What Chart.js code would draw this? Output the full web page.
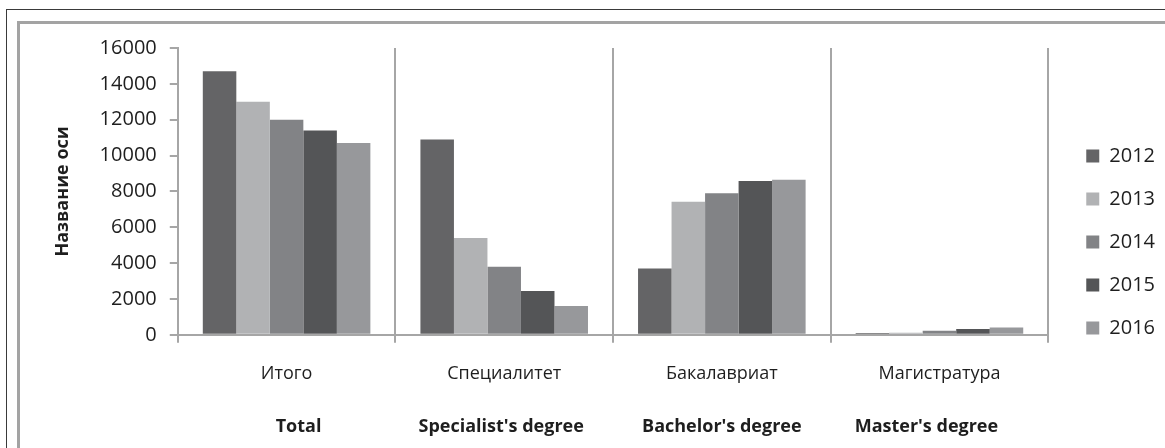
<!DOCTYPE html>
<html>
<head>
<meta charset="utf-8">
<script src="https://cdn.jsdelivr.net/npm/chart.js@4/dist/chart.umd.min.js"></script>
<style>
  html, body { margin: 0; padding: 0; background: #fff; }
  #wrap { position: relative; width: 1165px; height: 448px; overflow: hidden; }
  #outer { position: absolute; left: 6px; top: 9px; width: 1200px; height: 500px;
           border-left: 1.5px solid #3a3a3a; border-top: 1.5px solid #3a3a3a; }
  #inner { position: absolute; left: 17px; top: 21px; width: 1200px; height: 500px;
           border-left: 3px solid #a3a3a3; border-top: 3px solid #a3a3a3; }
  canvas { position: absolute; left: 0; top: 0; }
</style>
</head>
<body>
<div id="wrap">
  <div id="outer"></div>
  <div id="inner"></div>
  <canvas id="c" width="1165" height="448"></canvas>
</div>
<script>
const categories = ['Итого', 'Специалитет', 'Бакалавриат', 'Магистратура'];
const categoriesEn = ['Total', "Specialist's degree", "Bachelor's degree", "Master's degree"];
const years = ['2012', '2013', '2014', '2015', '2016'];
const v2012 = [14700, 10900, 3700, 100];
const v2013 = [13000, 5400, 7420, 120];
const v2014 = [12000, 3800, 7900, 220];
const v2015 = [11400, 2450, 8580, 320];
const v2016 = [10700, 1600, 8650, 410];
const yTicks = [0, 2000, 4000, 6000, 8000, 10000, 12000, 14000, 16000];
const yTitle = 'Название оси';

const colors = ['#646466', '#b1b2b4', '#828386', '#545557', '#97989b'];
const seriesValues = [v2012, v2013, v2014, v2015, v2016];
const axisColor = '#a6a6a6';
const textColor = '#1e1e1e';
const FONT = "'Open Sans', 'Noto Sans', sans-serif";
// small horizontal nudges (in category units) of the English caption row, as in the original text boxes
const enNudge = [0.055, -0.014, 0, -0.06];

const chart = new Chart(document.getElementById('c'), {
  type: 'bar',
  data: {
    labels: categories,
    datasets: years.map((y, i) => ({
      label: y,
      data: seriesValues[i],
      backgroundColor: colors[i],
      borderWidth: 0,
      categoryPercentage: 0.77,
      barPercentage: 1.0
    }))
  },
  options: {
    responsive: false,
    animation: false,
    layout: { padding: { left: 20, top: 34, right: 0, bottom: -2 } },
    plugins: {
      tooltip: { enabled: false },
      legend: {
        position: 'right',
        labels: {
          boxWidth: 13,
          boxHeight: 13,
          padding: 23,
          color: textColor,
          font: { family: FONT, size: 20 }
        }
      }
    },
    scales: {
      xT: {
        type: 'category',
        labels: categories,
        position: 'top',
        display: true,
        grid: { display: false, drawTicks: false },
        border: { display: false },
        ticks: { display: false },
        afterFit: (s) => { s.height = 14; }
      },
      x: {
        type: 'category',
        position: 'bottom',
        offset: true,
        grid: {
          display: true,
          offset: true,
          drawOnChartArea: true,
          drawTicks: true,
          tickLength: 8,
          color: axisColor,
          lineWidth: 2
        },
        border: { display: true, color: axisColor, width: 2 },
        ticks: {
          color: textColor,
          padding: 20,
          font: { family: FONT, size: 18 },
          maxRotation: 0
        }
      },
      x2: {
        type: 'linear',
        position: 'bottom',
        bounds: 'data',
        offset: false,
        min: -0.5,
        max: categoriesEn.length - 0.5,
        afterBuildTicks: (scale) => {
          scale.ticks = categoriesEn.map((_, i) => ({ value: i + enNudge[i] }));
        },
        grid: { display: false, drawTicks: false, offset: false },
        border: { display: false },
        ticks: {
          color: textColor,
          padding: 12,
          autoSkip: false,
          font: { family: FONT, size: 18, weight: 'bold' },
          maxRotation: 0,
          callback: (v, i) => categoriesEn[i]
        }
      },
      y: {
        min: 0,
        max: 16000,
        afterBuildTicks: (scale) => { scale.ticks = yTicks.map(v => ({ value: v })); },
        grid: {
          display: true,
          drawOnChartArea: false,
          drawTicks: true,
          tickLength: 8,
          color: axisColor,
          lineWidth: 2
        },
        border: { display: true, color: axisColor, width: 2 },
        ticks: {
          color: textColor,
          padding: 13,
          font: { family: FONT, size: 20 },
          callback: (v) => String(v)
        },
        title: {
          display: true,
          text: yTitle,
          color: textColor,
          font: { family: FONT, size: 18, weight: 'bold' },
          padding: { top: 32, bottom: 13 }
        }
      },
      yR: {
        type: 'linear',
        position: 'right',
        display: true,
        grid: { display: false },
        border: { display: false },
        ticks: { display: false },
        afterFit: (s) => { s.width = 15; }
      }
    }
  }
});
</script>
</body>
</html>
